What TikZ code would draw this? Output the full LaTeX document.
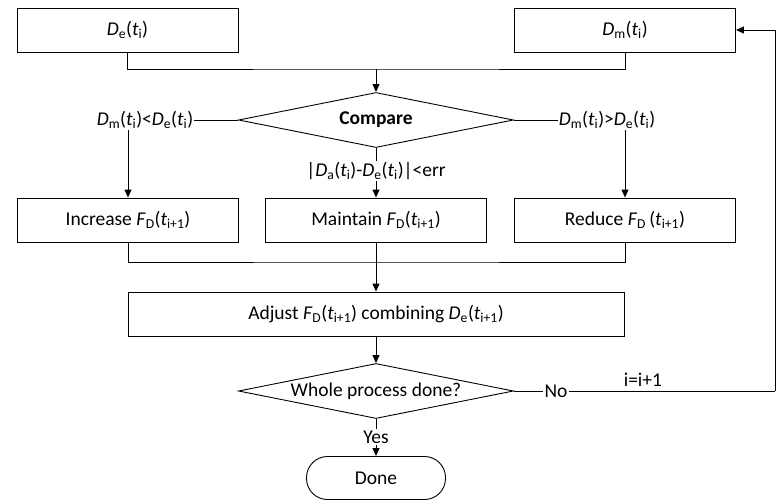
\documentclass[tikz,border=0pt]{standalone}
\usepackage{fontspec}
\setmainfont{Carlito}
\usetikzlibrary{shapes.geometric,arrows.meta}
\newcommand{\vr}[2]{\textit{#1}\textsubscript{#2}}
\begin{document}
\begin{tikzpicture}[x=1pt,y=-1pt,font=\fontsize{19.5}{22}\selectfont,
    box/.style={draw,rectangle,line width=.9pt,minimum width=221pt,minimum height=44pt,inner sep=0pt},
    cond/.style={draw,diamond,line width=.9pt,aspect=5,minimum width=275pt,minimum height=55pt,inner sep=0pt},
    lbl/.style={inner sep=1pt},
    flow/.style={line width=.9pt,-{Triangle[length=8pt,width=7pt]}}]
    \tikzstyle{line}=[line width=.9pt]
    \useasboundingbox (0,0) rectangle (784,501);

    \node[box] (de) at (127.5,30) {\vr{D}{e}(\vr{t}{i})};
    \node[box] (dm) at (625,30) {\vr{D}{m}(\vr{t}{i})};
    \coordinate (j1) at (376,69);
    \node[cond] (cmp) at (376,120) {\textbf{Compare}};

    \node[lbl] (lt) at (145,120) {\vr{D}{m}(\vr{t}{i})<\vr{D}{e}(\vr{t}{i})};
    \node[lbl] (gt) at (607,120) {\vr{D}{m}(\vr{t}{i})>\vr{D}{e}(\vr{t}{i})};
    \node[lbl] (eq) at (376,171) {|\vr{D}{a}(\vr{t}{i})-\vr{D}{e}(\vr{t}{i})|<err};

    \node[box] (inc) at (128,220) {Increase \vr{F}{D}(\vr{t}{i+1})};
    \node[box] (mnt) at (376,220) {Maintain \vr{F}{D}(\vr{t}{i+1})};
    \node[box] (red) at (625,220) {Reduce \vr{F}{D}\,(\vr{t}{i+1})};
    \coordinate (j2) at (376,262);
    \node[box,minimum width=496pt] (adj) at (376,314) {Adjust \vr{F}{D}(\vr{t}{i+1}) combining \vr{D}{e}(\vr{t}{i+1})};

    \node[cond] (chk) at (376,391) {Whole process done?};
    \node[lbl] (no) at (556,391) {No};
    \coordinate (fb) at (775,391);
    \node[lbl] (yes) at (376,437) {Yes};
    \node[draw,line width=.9pt,rounded corners=21pt,minimum width=139pt,minimum height=43pt] (done) at (376,478) {Done};

    % top part
    \draw[line] (de.south) |- (j1) -| (dm.south);
    \draw[flow] (j1) -- (cmp.north);
    \draw[line] (lt.east) -- (cmp.west);
    \draw[line] (cmp.east) -- (gt.west);
    \draw[line] (cmp.south) -- (eq.north);
    \draw[flow] (lt.south -| inc.north) -- (inc.north);
    \draw[flow] (gt.south -| red.north) -- (red.north);
    \draw[flow] (eq.south) -- (mnt.north);

    % bottom part
    \draw[line] (inc.south) |- (j2) -| (red.south);
    \draw[flow] (mnt.south) -- (adj.north);
    \draw[flow] (adj.south) -- (chk.north);
    \draw[line] (chk.east) -- (no.west);
    \draw[line] (no.east) -- node[pos=.36,above=1pt] {i=i+1} (fb);
    \draw[flow] (fb) |- (dm.east);
    \draw[line] (chk.south) -- (yes.north);
    \draw[flow] (yes.south) -- (done.north);
\end{tikzpicture}
\end{document}
